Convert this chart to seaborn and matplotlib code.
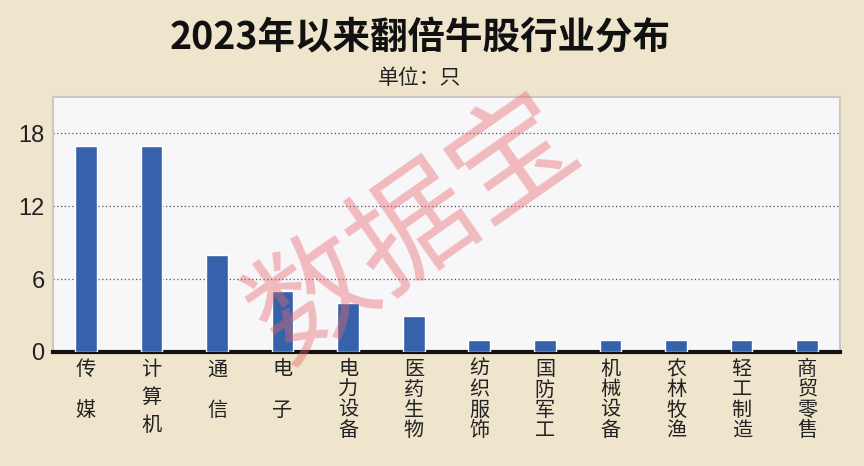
import matplotlib
matplotlib.use("Agg")
import matplotlib.pyplot as plt
import seaborn as sns
import pandas as pd

# Data
industries = ['传媒', '计算机', '通信', '电子', '电力设备', '医药生物',
              '纺织服饰', '国防军工', '机械设备', '农林牧渔', '轻工制造', '商贸零售']
counts = [17, 17, 8, 5, 4, 3, 1, 1, 1, 1, 1, 1]
yticks = [0, 6, 12, 18]

df = pd.DataFrame({'industry': industries, 'count': counts})

sns.set_theme(style='white')
plt.rcParams['font.family'] = ['Noto Sans CJK SC', 'DejaVu Sans']

bg = '#efe5cc'
fig = plt.figure(figsize=(8.64, 4.66), dpi=100, facecolor=bg)
ax = fig.add_axes([53 / 864, 1 - 352 / 466, (840 - 53) / 864, (352 - 97) / 466])
ax.set_facecolor('#f7f7fa')

sns.barplot(data=df, x='industry', y='count', color='#3661ab', saturation=1,
            width=0.33, ax=ax, zorder=3)

ax.set_xlim(-0.5, len(industries) - 0.5)
ax.set_ylim(0, 21)
ax.set_yticks(yticks)
ax.set_yticklabels([str(v) for v in yticks], family='Liberation Sans', fontsize=17)
ax.yaxis.grid(True, linestyle=(0, (1, 2)), color='#555555', linewidth=0.9, zorder=1)
ax.set_xlabel('')
ax.set_ylabel('')
ax.tick_params(axis='y', length=0, colors='#222222', pad=6)
ax.tick_params(axis='x', length=0)

# vertical tick labels: short names spread out, long names stacked tight
ax.set_xticks(range(len(industries)))
ax.set_xticklabels([])
for i, name in enumerate(industries):
    if len(name) == 2:
        txt, ls = name[0] + '\n\n' + name[1], 0.95
    elif len(name) == 3:
        txt, ls = '\n'.join(name), 1.42
    else:
        txt, ls = '\n'.join(name), 0.95
    ax.text(i, -0.6, txt, ha='center', va='top', fontsize=14.5, color='#222222',
            linespacing=ls, transform=ax.transData, clip_on=False)

for side in ['top', 'right', 'left']:
    ax.spines[side].set_color('#cfc8c0')
    ax.spines[side].set_linewidth(1.5)
ax.spines['bottom'].set_color('#111111')
ax.spines['bottom'].set_linewidth(3)

fig.text(420 / 864, 1 - 38 / 466, '2023年以来翻倍牛股行业分布', ha='center', va='center',
         fontsize=27, fontweight='heavy', color='#111111')
fig.text(420 / 864, 1 - 78 / 466, '单位：只', ha='center', va='center',
         fontsize=15, color='#222222')

# watermark
fig.text(415 / 864, 1 - 230 / 466, '数据宝', ha='center', va='center', fontsize=88,
         color='#e8666a', alpha=0.42, rotation=35, fontweight='medium')

fig.savefig('out.png', dpi=100, facecolor=bg)
